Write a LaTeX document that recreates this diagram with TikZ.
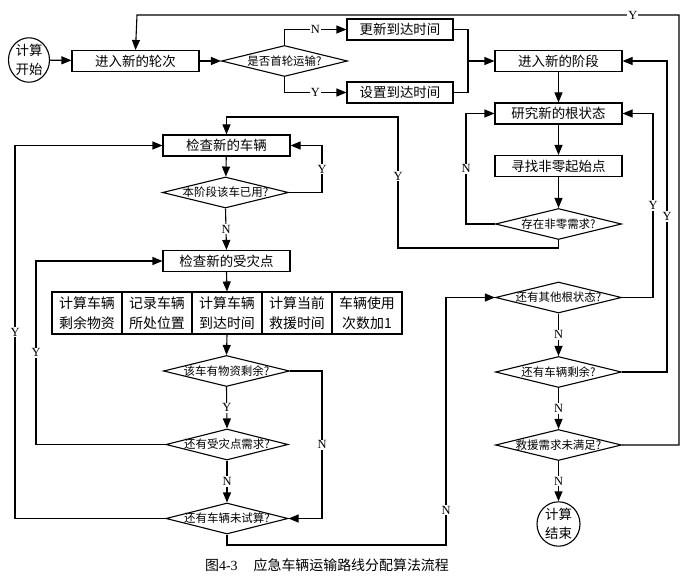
\documentclass[tikz,border=0pt]{standalone}
\usepackage{fontspec}
\setmainfont{Liberation Serif}
\newfontfamily\cjk{Noto Sans CJK SC}
\usetikzlibrary{shapes.geometric,arrows.meta}
\newcommand{\qtext}[1]{\makebox[0pt]{#1}}

\begin{document}
\begin{tikzpicture}[x=1bp,y=-1bp,line width=1.1bp]
\tikzstyle{every node}+=[inner sep=0pt]
\tikzstyle{box}=[draw,rectangle,minimum width=127bp,minimum height=21bp,font=\cjk\fontsize{13.5}{15}\selectfont]
\tikzstyle{cell}=[draw,rectangle,minimum width=70bp,minimum height=42bp,align=center,font=\cjk\fontsize{14}{20}\selectfont]
\tikzstyle{ask}=[draw,diamond,minimum width=126bp,minimum height=31bp,font=\cjk\fontsize{11.5}{13}\selectfont]
\tikzstyle{term}=[draw,ellipse,minimum width=41bp,minimum height=38bp,align=center,font=\cjk\fontsize{13.5}{19}\selectfont]
\tikzstyle{go}=[-{Triangle[length=10bp,width=8bp]}]
\tikzstyle{yn}=[fill=white,inner sep=1bp,font=\fontsize{12.5}{13}\selectfont]
\useasboundingbox (0,0) rectangle (687,580);

\node [term] (start) at (29,60) {计算\\开始};
\node [box] (lunci) at (135.5,61) {进入新的轮次};
\node [ask] (shoulun) at (284.5,61) {\qtext{是否首轮运输?}};
\node [box,minimum width=106bp] (gengxin) at (400,29.5) {更新到达时间};
\node [box,minimum width=106bp] (shezhi) at (400,92.5) {设置到达时间};
\coordinate (join) at (468,61);

\node [box] (jieduan) at (558.5,61) {进入新的阶段};
\node [box] (genzt) at (558.5,113.5) {研究新的根状态};
\node [box] (xunzhao) at (558.5,166) {寻找非零起始点};
\node [ask] (cunzai) at (558.5,224) {\qtext{存在非零需求?}};

\node [box] (cheliang) at (226.5,145.5) {检查新的车辆};
\node [ask] (yiyong) at (225.5,192.5) {\qtext{本阶段该车已用?}};
\node [box] (shouzai) at (226.5,261) {检查新的受灾点};

\node [cell] (c1) at (87,313) {计算车辆\\剩余物资};
\node [cell] (c2) at (157,313) {记录车辆\\所处位置};
\node [cell] (c3) at (227,313) {计算车辆\\到达时间};
\node [cell] (c4) at (297,313) {计算当前\\救援时间};
\node [cell] (c5) at (367,313) {车辆使用\\次数加1};

\node [ask] (wuzi) at (226.5,371) {\qtext{该车有物资剩余?}};
\node [ask,minimum width=122bp] (xuqiu) at (227,444.5) {\qtext{还有受灾点需求?}};
\node [ask,minimum width=122bp] (weishi) at (227,518.5) {\qtext{还有车辆未试算?}};

\node [ask] (qita) at (558.5,297.5) {\qtext{还有其他根状态?}};
\node [ask] (shengyu) at (558.5,372) {\qtext{还有车辆剩余?}};
\node [ask] (manzu) at (558.5,445) {\qtext{救援需求未满足?}};
\node [term,minimum width=43bp,minimum height=42bp] (ende) at (558.5,524) {计算\\结束};

\node (cap) at (327,565) {{\cjk\fontsize{14}{15}\selectfont 图}{\fontsize{14}{15}\selectfont 4-3}\hspace{1.6em}{\cjk\fontsize{14}{15}\selectfont 应急车辆运输路线分配算法流程}};

\draw [go] (start) -- (lunci);
\draw [go] (lunci) -- (shoulun);
\draw [go] (shoulun.north) |- node[yn,pos=0.75]{N} (gengxin.west);
\draw [go] (shoulun.south) |- node[yn,pos=0.75]{Y} (shezhi.west);
\draw (gengxin.east) -| (join);
\draw (shezhi.east) -| (join);
\draw [go] (join) -- (jieduan.west);

\draw [go] (jieduan) -- (genzt);
\draw [go] (genzt) -- (xunzhao);
\draw [go] (xunzhao) -- (cunzai);
\draw [go] (cunzai.west) -- (466,224) -- node[yn]{N} (466,113.5) -- (genzt.west);
\draw [go] (cunzai.south) -- (558.5,248) -- (398,248) -- node[yn,pos=0.55]{Y} (398,117) -- (226.5,117) -- (cheliang.north);

\draw [go] (cheliang) -- (yiyong);
\draw [go] (yiyong.east) -- (322,192.5) -- node[yn]{Y} (322,145.5) -- (cheliang.east);
\draw [go] (yiyong.south) -- node[yn]{N} (shouzai.north);
\draw [go] (shouzai.south) -- (c3.north);
\draw [go] (c3.south) -- (wuzi.north);

\draw [go] (wuzi.south) -- node[yn]{Y} (xuqiu.north);
\draw [go] (wuzi.east) -- (322,371) -- node[yn]{N} (322,518.5) -- (weishi.east);
\draw [go] (xuqiu.west) -- (36,444.5) -- node[yn]{Y} (36,261) -- (shouzai.west);
\draw [go] (xuqiu.south) -- node[yn]{N} (weishi.north);
\draw [go] (weishi.west) -- (15,518.5) -- node[yn]{Y} (15,145.5) -- (cheliang.west);
\draw [go] (weishi.south) -- (227,545) -- (446,545) -- node[yn,pos=0.14]{N} (446,297.5) -- (qita.west);

\draw [go] (qita.south) -- node[yn]{N} (shengyu.north);
\draw [go] (shengyu.south) -- node[yn]{N} (manzu.north);
\draw [go] (manzu.south) -- node[yn]{N} (ende.north);
\draw [go] (qita.east) -- (653,297.5) -- node[yn]{Y} (653,113.5) -- (genzt.east);
\draw [go] (shengyu.east) -- (667,372) -- node[yn]{Y} (667,61) -- (jieduan.east);
\draw [go] (manzu.east) -- (679,445) -- (679,15) -- node[yn,pos=0.085]{Y} (137,15) -- (lunci.north);
\end{tikzpicture}
\end{document}
